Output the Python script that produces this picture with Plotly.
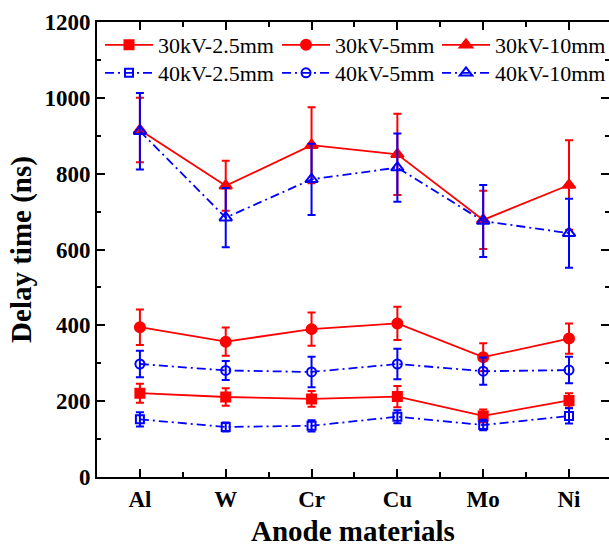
import plotly.graph_objects as go

# Anode materials on the category axis
materials = ["Al", "W", "Cr", "Cu", "Mo", "Ni"]
positions = [1, 2, 3, 4, 5, 6]

# Delay time (ns) and its standard deviation for each voltage / gap setting
d30_25 = [221, 211, 206, 212, 161, 202]
e30_25 = [25, 23, 21, 28, 17, 19]
d30_5 = [395, 357, 390, 405, 316, 365]
e30_5 = [47, 37, 44, 44, 37, 40]
d30_10 = [915, 768, 875, 851, 678, 770]
e30_10 = [85, 66, 100, 107, 77, 118]
d40_25 = [152, 132, 135, 159, 137, 161]
e40_25 = [19, 12, 15, 17, 14, 20]
d40_5 = [298, 281, 277, 298, 279, 282]
e40_5 = [35, 25, 40, 40, 36, 35]
d40_10 = [912, 684, 785, 816, 675, 643]
e40_10 = [101, 78, 94, 90, 95, 91]

RED = "#FF0000"
BLUE = "#0000FF"
FONT = "Liberation Serif"
DASHDOT = "9px,4px,2px,4px"

W, H = 609, 549
ML, MR, MT, MB = 97, 0, 22, 72
PW, PH = W - ML - MR, H - MT - MB

series = [
    ("30kV-2.5mm", d30_25, e30_25, RED, "solid", "square", 9, "legend"),
    ("30kV-5mm", d30_5, e30_5, RED, "solid", "circle", 10, "legend2"),
    ("30kV-10mm", d30_10, e30_10, RED, "solid", "triangle-up", 11, "legend3"),
    ("40kV-2.5mm", d40_25, e40_25, BLUE, DASHDOT, "square-open", 8, "legend4"),
    ("40kV-5mm", d40_5, e40_5, BLUE, DASHDOT, "circle-open", 9, "legend5"),
    ("40kV-10mm", d40_10, e40_10, BLUE, DASHDOT, "triangle-up-open", 11, "legend6"),
]

fig = go.Figure()
for name, vals, errs, color, dash, symbol, size, leg in series:
    fig.add_trace(go.Scatter(
        x=positions, y=vals, name=name, mode="lines+markers",
        line=dict(color=color, width=1.8, dash=dash),
        marker=dict(color=color, symbol=symbol, size=size,
                    line=dict(color=color, width=2)),
        error_y=dict(type="data", array=errs, visible=True,
                     color=color, thickness=2, width=4),
        legend=leg,
    ))

# invisible trace that carries the right-hand tick axis
fig.add_trace(go.Scatter(x=[1], y=[0], yaxis="y2", mode="markers",
                         marker=dict(opacity=0), showlegend=False,
                         hoverinfo="skip"))

# Legend entries laid out as a 3 x 2 grid (pixel positions in the page)
col_x = [100, 277, 437]
row_y = [45, 73]
legend_pos = {
    "legend": (col_x[0], row_y[0]), "legend2": (col_x[1], row_y[0]),
    "legend3": (col_x[2], row_y[0]), "legend4": (col_x[0], row_y[1]),
    "legend5": (col_x[1], row_y[1]), "legend6": (col_x[2], row_y[1]),
}
leg_layout = {}
for key, (px, py) in legend_pos.items():
    leg_layout[key] = dict(
        x=(px - ML) / PW, y=(MT + PH - py) / PH,
        xanchor="left", yanchor="middle",
        bgcolor="rgba(0,0,0,0)", borderwidth=0, itemwidth=48,
        font=dict(family=FONT, size=22, color="black"),
    )

# x-axis title placed as an annotation resting on the bottom edge
xtitle_bottom = 548
fig.add_annotation(
    text="<b>Anode materials</b>", xref="paper", yref="paper",
    x=0.5, y=-(xtitle_bottom - (MT + PH)) / PH, xanchor="center",
    yanchor="bottom", borderpad=0,
    showarrow=False, font=dict(family=FONT, size=29, color="black"),
)

fig.update_layout(
    width=W, height=H,
    margin=dict(l=ML, r=MR, t=MT, b=MB, autoexpand=False),
    plot_bgcolor="white", paper_bgcolor="white",
    font=dict(family=FONT, color="black"),
    showlegend=True,
    **leg_layout,
    xaxis=dict(
        range=[0.5, 6.466], tickmode="array", tickvals=positions,
        ticktext=materials, showgrid=False, zeroline=False,
        showline=True, linecolor="black", linewidth=2, mirror="ticks",
        ticks="inside", ticklen=8, tickwidth=2, tickcolor="black",
        minor=dict(ticks="inside", ticklen=5, tickwidth=2, tickcolor="black",
                   tick0=0.5, dtick=1),
        tickfont=dict(family=FONT, size=23, weight="bold"),
    ),
    yaxis=dict(
        range=[0, 1200], dtick=200, showgrid=False, zeroline=False,
        showline=True, linecolor="black", linewidth=2,
        ticks="inside", ticklen=8, tickwidth=2, tickcolor="black",
        minor=dict(ticks="inside", ticklen=4, tickwidth=2, tickcolor="black",
                   dtick=100),
        tickfont=dict(family=FONT, size=23, weight="bold"),
        title=dict(text="Delay time (ns)", standoff=4,
                   font=dict(family=FONT, size=29, weight="bold")),
    ),
    yaxis2=dict(
        overlaying="y", anchor="x", side="right", range=[0, 1200], dtick=200,
        showgrid=False, zeroline=False, showline=False,
        showticklabels=False, ticks="inside", ticklen=8, tickwidth=2,
        tickcolor="black",
        minor=dict(ticks="inside", ticklen=4, tickwidth=2, tickcolor="black",
                   dtick=100),
    ),
)

fig.write_html("out.html")
